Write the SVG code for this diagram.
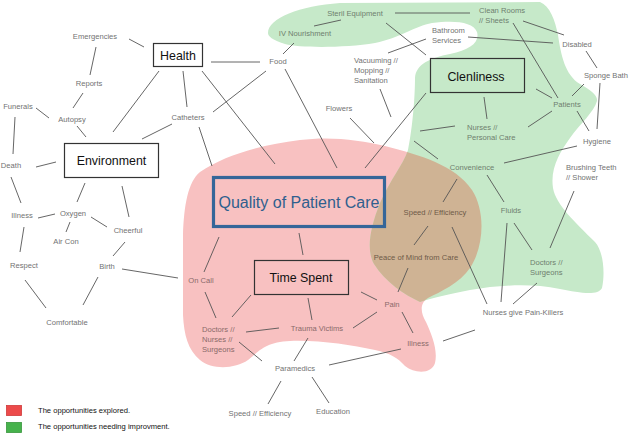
<svg xmlns="http://www.w3.org/2000/svg" width="640" height="433" viewBox="0 0 640 433">
<style>
.lbl{font-family:"Liberation Sans",Arial,sans-serif;font-size:7.6px;fill:#727272;text-anchor:middle}
.lbll{font-family:"Liberation Sans",Arial,sans-serif;font-size:7.6px;fill:#727272;text-anchor:start}
.pk{fill:#8a6a6a}
.gr{fill:#6e7e6e}
.br{fill:#6e5a48}
.box{fill:none;stroke:#333;stroke-width:1.2}
.btxt{font-family:"Liberation Sans",Arial,sans-serif;font-size:12.4px;fill:#111;text-anchor:middle}
.conn line{stroke:#555;stroke-width:0.9}
.leg{font-family:"Liberation Sans",Arial,sans-serif;font-size:7.6px;fill:#111}
</style>
<defs>
<path id="greenShape" d="M 268,33 C 268,18 300,6 340,3 L 540,2 C 550,6 555,20 558,35 C 561,55 565,75 580,84 C 590,90 598,95 597,101 C 594,112 580,124 570,138 C 560,152 550,168 553,188 C 556,205 575,222 595,242 C 604,252 605,275 602,288 C 598,296 580,293 560,289 C 530,283 500,285 470,290 C 450,294 432,298 420,302 C 405,295 385,282 374,264 C 366,250 370,228 380,203 C 390,180 403,165 408,150 C 413,125 415,95 415,78 C 416,64 430,58 450,54 C 470,50 480,42 477,32 C 473,22 455,20 432,23 C 415,26 400,38 375,43 C 345,48 300,48 285,44 C 272,40 268,36 268,33 Z"/>
<path id="pinkShape" d="M 200,172 C 225,155 260,145 300,140 C 330,136 360,140 385,146 C 420,155 455,165 472,190 C 485,210 485,245 470,268 C 460,283 440,292 428,298 C 420,303 420,312 426,322 C 432,335 438,350 435,363 C 432,374 415,374 405,366 C 398,358 390,353 375,350 C 350,345 320,340 290,341 C 265,342 258,352 248,360 C 235,369 212,370 200,360 C 188,350 184,335 183,315 L 183,235 C 184,205 188,182 200,172 Z"/>
<clipPath id="greenClip"><use href="#greenShape"/></clipPath>
</defs>

<g id="regions">
<use href="#pinkShape" fill="#f8c1c1"/>
<use href="#greenShape" fill="#c6e9c9"/>
<use href="#pinkShape" fill="#cfb394" clip-path="url(#greenClip)"/>
</g>

<g class="conn" id="connectors">
<line x1="129" y1="39" x2="144" y2="47"/>
<line x1="96" y1="47" x2="90" y2="75"/>
<line x1="83" y1="93" x2="73" y2="108"/>
<line x1="36" y1="108" x2="49" y2="118"/>
<line x1="15" y1="117" x2="13" y2="154"/>
<line x1="77" y1="126" x2="86" y2="137"/>
<line x1="159" y1="71" x2="113" y2="132"/>
<line x1="183" y1="71" x2="187" y2="107"/>
<line x1="211" y1="62" x2="260" y2="62"/>
<line x1="202" y1="71" x2="275" y2="164"/>
<line x1="172" y1="124" x2="142" y2="139"/>
<line x1="213" y1="112" x2="266" y2="71"/>
<line x1="199" y1="127" x2="212" y2="166"/>
<line x1="283" y1="54" x2="294" y2="43"/>
<line x1="314" y1="26" x2="341" y2="20"/>
<line x1="285" y1="69" x2="337" y2="168"/>
<line x1="395" y1="13" x2="470" y2="13"/>
<line x1="386" y1="23" x2="426" y2="55"/>
<line x1="388" y1="53" x2="426" y2="39"/>
<line x1="468" y1="37" x2="553" y2="43"/>
<line x1="523" y1="21" x2="564" y2="35"/>
<line x1="513" y1="23" x2="558" y2="98"/>
<line x1="586" y1="51" x2="597" y2="68"/>
<line x1="584" y1="84" x2="572" y2="96"/>
<line x1="600" y1="83" x2="597" y2="129"/>
<line x1="536" y1="89" x2="552" y2="98"/>
<line x1="577" y1="111" x2="589" y2="131"/>
<line x1="552" y1="111" x2="528" y2="127"/>
<line x1="484" y1="97" x2="487" y2="119"/>
<line x1="420" y1="131" x2="455" y2="126"/>
<line x1="426" y1="93" x2="365" y2="168"/>
<line x1="380" y1="89" x2="391" y2="117"/>
<line x1="350" y1="118" x2="374" y2="143"/>
<line x1="414" y1="141" x2="438" y2="159"/>
<line x1="504" y1="163" x2="577" y2="146"/>
<line x1="457" y1="179" x2="443" y2="202"/>
<line x1="487" y1="175" x2="504" y2="202"/>
<line x1="574" y1="191" x2="550" y2="248"/>
<line x1="514" y1="223" x2="532" y2="250"/>
<line x1="507" y1="223" x2="501" y2="302"/>
<line x1="537" y1="283" x2="513" y2="304"/>
<line x1="452" y1="227" x2="487" y2="304"/>
<line x1="428" y1="226" x2="414" y2="245"/>
<line x1="408" y1="268" x2="398" y2="292"/>
<line x1="361" y1="292" x2="377" y2="300"/>
<line x1="377" y1="312" x2="353" y2="328"/>
<line x1="402" y1="312" x2="413" y2="333"/>
<line x1="443" y1="341" x2="475" y2="330"/>
<line x1="401" y1="349" x2="329" y2="365"/>
<line x1="308" y1="298" x2="312" y2="320"/>
<line x1="299" y1="233" x2="303" y2="255"/>
<line x1="251" y1="295" x2="232" y2="317"/>
<line x1="279" y1="328" x2="246" y2="332"/>
<line x1="239" y1="342" x2="262" y2="361"/>
<line x1="308" y1="338" x2="294" y2="361"/>
<line x1="281" y1="381" x2="268" y2="404"/>
<line x1="312" y1="377" x2="329" y2="403"/>
<line x1="205" y1="292" x2="216" y2="318"/>
<line x1="219" y1="237" x2="204" y2="272"/>
<line x1="122" y1="269" x2="178" y2="278"/>
<line x1="113" y1="256" x2="125" y2="242"/>
<line x1="122" y1="186" x2="129" y2="217"/>
<line x1="85" y1="183" x2="77" y2="202"/>
<line x1="55" y1="214" x2="38" y2="218"/>
<line x1="70" y1="222" x2="66" y2="232"/>
<line x1="91" y1="217" x2="107" y2="227"/>
<line x1="36" y1="167" x2="56" y2="162"/>
<line x1="11" y1="177" x2="21" y2="203"/>
<line x1="24" y1="227" x2="20" y2="252"/>
<line x1="25" y1="280" x2="46" y2="308"/>
<line x1="98" y1="277" x2="83" y2="305"/>
</g>

<g id="n-health"><rect class="box" x="153.5" y="43.5" width="49" height="23"/><text class="btxt" x="178" y="59.5">Health</text></g>
<g id="n-environment"><rect class="box" x="64.5" y="143.5" width="94" height="34"/><text class="btxt" x="111.5" y="165">Environment</text></g>
<g id="n-quality"><rect x="213.5" y="177.5" width="171" height="49" fill="none" stroke="#356699" stroke-width="3.2"/><text x="299" y="208" font-family="'Liberation Sans',Arial,sans-serif" font-size="16px" fill="#2f5f8e" text-anchor="middle">Quality of Patient Care</text></g>
<g id="n-timespent"><rect class="box" x="254.5" y="260.5" width="94" height="34"/><text class="btxt" x="301" y="282">Time Spent</text></g>
<g id="n-clenliness"><rect class="box" x="430.5" y="58.5" width="94" height="34"/><text class="btxt" x="476" y="80.5">Clenliness</text></g>

<g id="labels">
<text id="n-emergencies" class="lbl" x="95" y="39">Emergencies</text>
<text id="n-reports" class="lbl" x="89" y="86">Reports</text>
<text id="n-funerals" class="lbl" x="18" y="109">Funerals</text>
<text id="n-autopsy" class="lbl" x="72" y="122">Autopsy</text>
<text id="n-catheters" class="lbl" x="188" y="120">Catheters</text>
<text id="n-food" class="lbl" x="278" y="64">Food</text>
<text id="n-iv" class="lbl gr" x="305" y="36">IV Nourishment</text>
<text id="n-steril" class="lbl gr" x="355" y="16">Steril Equipment</text>
<text id="n-vacuuming" class="lbll" x="354" y="63"><tspan x="354">Vacuuming //</tspan><tspan x="354" dy="10">Mopping //</tspan><tspan x="354" dy="10">Sanitation</tspan></text>
<text id="n-flowers" class="lbl" x="339" y="111">Flowers</text>
<text id="n-cleanrooms" class="lbll gr" x="479" y="13"><tspan x="479">Clean Rooms</tspan><tspan x="479" dy="10">// Sheets</tspan></text>
<text id="n-bathroom" class="lbll" x="432" y="33"><tspan x="432">Bathroom</tspan><tspan x="432" dy="10">Services</tspan></text>
<text id="n-disabled" class="lbl" x="577" y="47">Disabled</text>
<text id="n-sponge" class="lbl" x="606" y="78">Sponge Bath</text>
<text id="n-patients" class="lbl gr" x="567" y="107">Patients</text>
<text id="n-nurses" class="lbll gr" x="467" y="130"><tspan x="467">Nurses //</tspan><tspan x="467" dy="10">Personal Care</tspan></text>
<text id="n-hygiene" class="lbl" x="597" y="144">Hygiene</text>
<text id="n-convenience" class="lbl gr" x="472" y="170">Convenience</text>
<text id="n-brushing" class="lbll" x="566" y="170"><tspan x="566">Brushing Teeth</tspan><tspan x="566" dy="10">// Shower</tspan></text>
<text id="n-speed1" class="lbl br" x="435" y="215">Speed // Efficiency</text>
<text id="n-fluids" class="lbl gr" x="511" y="213">Fluids</text>
<text id="n-peace" class="lbl br" x="416" y="260">Peace of Mind from Care</text>
<text id="n-doctors2" class="lbll gr" x="530" y="265"><tspan x="530">Doctors //</tspan><tspan x="530" dy="10">Surgeons</tspan></text>
<text id="n-pain" class="lbl pk" x="392" y="307">Pain</text>
<text id="n-painkillers" class="lbl" x="523" y="315">Nurses give Pain-Killers</text>
<text id="n-trauma" class="lbl pk" x="317" y="331">Trauma Victims</text>
<text id="n-doctors1" class="lbll pk" x="202" y="332"><tspan x="202">Doctors //</tspan><tspan x="202" dy="10">Nurses //</tspan><tspan x="202" dy="10">Surgeons</tspan></text>
<text id="n-illness2" class="lbl pk" x="418" y="346">Illness</text>
<text id="n-paramedics" class="lbl" x="295" y="371">Paramedics</text>
<text id="n-speed2" class="lbl" x="260" y="416">Speed // Efficiency</text>
<text id="n-education" class="lbl" x="333" y="414">Education</text>
<text id="n-oncall" class="lbl pk" x="201" y="283">On Call</text>
<text id="n-death" class="lbl" x="11" y="168">Death</text>
<text id="n-illness1" class="lbl" x="22" y="218">Illness</text>
<text id="n-oxygen" class="lbl" x="73" y="216">Oxygen</text>
<text id="n-aircon" class="lbl" x="66" y="244">Air Con</text>
<text id="n-cheerful" class="lbl" x="128" y="233">Cheerful</text>
<text id="n-respect" class="lbl" x="24" y="268">Respect</text>
<text id="n-birth" class="lbl" x="107" y="269">Birth</text>
<text id="n-comfortable" class="lbl" x="67" y="325">Comfortable</text>
</g>

<g id="legend">
<rect x="6.5" y="405.5" width="15" height="10" fill="#ec4a4a" stroke="#d03a3a" stroke-width="0.8"/>
<text class="leg" x="38" y="413">The opportunities explored.</text>
<rect x="6.5" y="422.5" width="15" height="10" fill="#46b24c" stroke="#38963e" stroke-width="0.8"/>
<text class="leg" x="38" y="429">The opportunities needing improvment.</text>
</g>
</svg>
